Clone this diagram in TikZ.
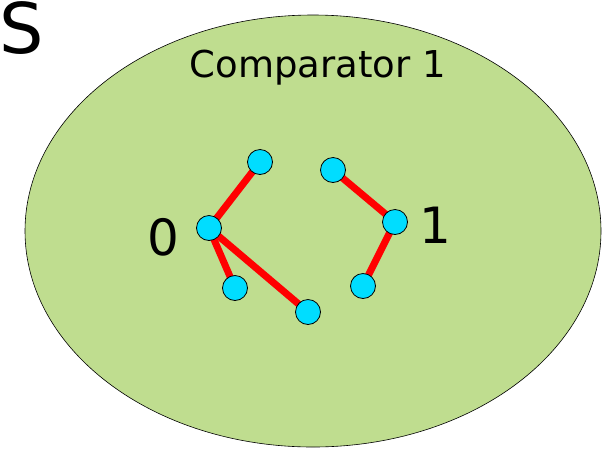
\documentclass[tikz,border=0pt]{standalone}
\usepackage{fontspec}
\setmainfont{DejaVu Sans}
\begin{document}
\begin{tikzpicture}[x=1pt,y=-1pt,
  dot/.style={circle,draw=black,line width=0.8pt,fill=cyanfill,minimum size=25pt,inner sep=0pt},
  link/.style={draw=red,line width=7pt}]
\definecolor{cyanfill}{HTML}{00DDFF}
\definecolor{greenfill}{HTML}{BFDD8F}
\useasboundingbox (0,0) rectangle (607,448);
\draw[fill=greenfill,line width=0.6pt] (313,231) ellipse [x radius=288, y radius=216];
\node[font=\fontsize{70}{70}\selectfont,anchor=center] (s) at (22,28) {S};
\node[font=\fontsize{37}{37}\selectfont] (title) at (318,68) {Comparator 1};
\node[font=\fontsize{50}{50}\selectfont] (l0) at (163,237) {0};
\node[font=\fontsize{50}{50}\selectfont] (l1) at (435,225) {1};
\coordinate (pa) at (260,162);
\coordinate (pb) at (209,228);
\coordinate (pc) at (235,288);
\coordinate (pd) at (308,312);
\coordinate (pe) at (333,170);
\coordinate (pf) at (395,222);
\coordinate (pg) at (363,286);
\draw[link] (pb) -- (pa);
\draw[link] (pb) -- (pc);
\draw[link] (pb) -- (pd);
\draw[link] (pe) -- (pf);
\draw[link] (pf) -- (pg);
\foreach \p in {a,b,c,d,e,f,g} \node[dot] (n\p) at (p\p) {};
\end{tikzpicture}
\end{document}
